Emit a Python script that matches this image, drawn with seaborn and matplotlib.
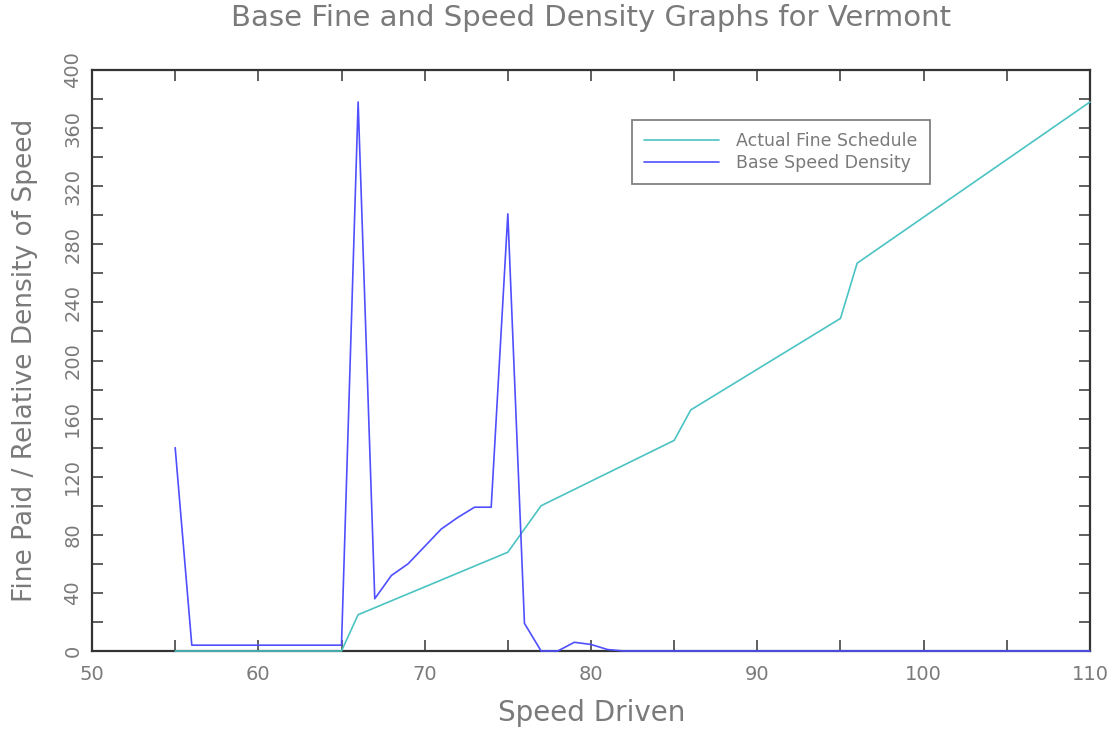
import matplotlib
matplotlib.use("Agg")
import matplotlib.pyplot as plt
import seaborn as sns
import pandas as pd
from matplotlib.ticker import MultipleLocator

# ---- data ----
speed_fine = [55, 65, 66, 75, 77, 85, 86, 95, 96, 110]
fine_paid = [0, 0, 25, 68, 100, 145, 166, 229, 267, 378]

speed_density = [55, 56, 65, 66, 67, 68, 69, 70, 71, 72, 73, 74, 75, 76, 77,
                 78, 79, 80, 81, 82, 110]
density = [140, 4, 4, 378, 36, 52, 60, 72, 84, 92, 99, 99, 301, 19, 0,
           0, 6, 4.5, 1, 0, 0]

x_ticks = [50, 60, 70, 80, 90, 100, 110]
y_ticks = [0, 40, 80, 120, 160, 200, 240, 280, 320, 360, 400]

title = "Base Fine and Speed Density Graphs for Vermont"
xlabel = "Speed Driven"
ylabel = "Fine Paid / Relative Density of Speed"
labels = ["Actual Fine Schedule", "Base Speed Density"]

# ---- style ----
sns.set_style("ticks")
plt.rcParams['font.family'] = ['DejaVu Sans']
text_col = "#7a7a7a"
cyan = "#4cc3c3"
blue = "#4f4fff"

fig = plt.figure(figsize=(11.2, 7.31), dpi=100)
ax = fig.add_axes([92/1120, 1-651/731, (1090-92)/1120, (651-70)/731])

df_fine = pd.DataFrame({"speed": speed_fine, "value": fine_paid})
df_dens = pd.DataFrame({"speed": speed_density, "value": density})

sns.lineplot(data=df_fine, x="speed", y="value", ax=ax, color=cyan,
             linewidth=1.2, label=labels[0], clip_on=False, zorder=3,
             sort=False)
sns.lineplot(data=df_dens, x="speed", y="value", ax=ax, color=blue,
             linewidth=1.2, label=labels[1], clip_on=False, zorder=3,
             sort=False)

ax.set_xlim(50, 110)
ax.set_ylim(0, 400)
ax.set_xticks(x_ticks)
ax.set_yticks(y_ticks)
ax.xaxis.set_minor_locator(MultipleLocator(5))
ax.yaxis.set_minor_locator(MultipleLocator(20))
ax.tick_params(which="both", direction="in", length=8, width=1.2,
               top=True, right=True, colors="#444444",
               labelcolor=text_col, labelsize=14)
ax.tick_params(axis="y", which="major", labelrotation=90, pad=7)
ax.tick_params(axis="x", which="major", pad=10)
for lab in ax.get_yticklabels():
    lab.set_verticalalignment("center")
for s in ax.spines.values():
    s.set_color("#333333")
    s.set_linewidth(1.6)

ax.set_xlabel("")
ax.set_ylabel("")
fig.text(592/1120, 1-713/731, xlabel, ha="center", va="center",
         fontsize=20, color=text_col)
fig.text(25/1120, 1-360/731, ylabel, ha="center", va="center",
         rotation=90, fontsize=19, color=text_col)
fig.text(591/1120, 1-18/731, title, ha="center", va="center",
         fontsize=21, color=text_col)

leg = ax.legend(loc="upper left", bbox_to_anchor=((632-92)/998, (651-120)/581),
                frameon=True, fancybox=False, fontsize=12.5, handlelength=4.3,
                borderpad=0.7, labelspacing=0.2, borderaxespad=0,
                handletextpad=1.0)
leg.get_frame().set_edgecolor("#555555")
leg.get_frame().set_linewidth(1.2)
for t in leg.get_texts():
    t.set_color(text_col)

fig.savefig("out.png", dpi=100)
